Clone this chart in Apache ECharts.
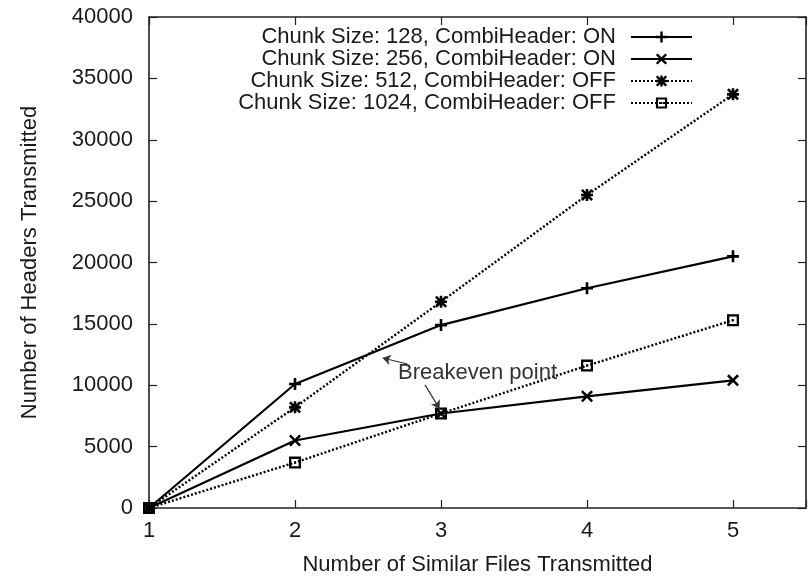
<!DOCTYPE html>
<html>
<head>
<meta charset="utf-8">
<script src="https://cdn.jsdelivr.net/npm/echarts@6/dist/echarts.min.js"></script>
<style>
html,body{margin:0;padding:0;background:#fff;}
#chart{width:809px;height:581px;}
</style>
</head>
<body>
<div id="chart"></div>
<script>
// ---- data ----
const xValues = [1, 2, 3, 4, 5];
const seriesNames = [
  'Chunk Size: 128, CombiHeader: ON',
  'Chunk Size: 256, CombiHeader: ON',
  'Chunk Size: 512, CombiHeader: OFF',
  'Chunk Size: 1024, CombiHeader: OFF'
];
const chunk128On  = [0, 10100, 14900, 17900, 20500];
const chunk256On  = [0, 5500, 7700, 9100, 10400];
const chunk512Off = [0, 8200, 16800, 25500, 33700];
const chunk1024Off = [0, 3700, 7700, 11600, 15300];
const yTicks = [0, 5000, 10000, 15000, 20000, 25000, 30000, 35000, 40000];
const annotationText = 'Breakeven point';
// annotation anchors in data coordinates
const labelAnchor = [3.25, 11000];
const arrow1 = [[2.77, 11730], [2.60, 12220]];
const arrow2 = [[2.89, 10030], [2.99, 8100]];

// ---- symbols ----
const PLUS = 'path://M4.7,0H7.3V4.7H12V7.3H7.3V12H4.7V7.3H0V4.7H4.7Z';
const CROSS = 'path://M0,1.8L1.8,0L6,4.2L10.2,0L12,1.8L7.8,6L12,10.2L10.2,12L6,7.8L1.8,12L0,10.2L4.2,6Z';
const STAR = 'path://M4.7,0H7.3V4.7H12V7.3H7.3V12H4.7V7.3H0V4.7H4.7Z M0,1.8L1.8,0L6,4.2L10.2,0L12,1.8L7.8,6L12,10.2L10.2,12L6,7.8L1.8,12L0,10.2L4.2,6Z';
const SQUARE = 'path://M0,0H12V12H0Z M2.3,2.3V9.7H9.7V2.3Z M5,5H7V7H5Z';

const FONT = "'Liberation Sans', Arial, sans-serif";
const TXT = '#1a1a1a';

function pairs(vals) { return xValues.map((x, i) => [x, vals[i]]); }

function mkSeries(name, vals, symbol, dotted) {
  return {
    name: name,
    type: 'line',
    data: pairs(vals),
    symbol: symbol,
    symbolSize: 12,
    showAllSymbol: true,
    lineStyle: { color: '#000', width: dotted ? 2.4 : 2.2, type: dotted ? [2, 2] : 'solid' },
    itemStyle: { color: '#000' },
    emphasis: { disabled: true },
    animation: false
  };
}

const series = [
  mkSeries(seriesNames[0], chunk128On, PLUS, false),
  mkSeries(seriesNames[1], chunk256On, CROSS, false),
  mkSeries(seriesNames[2], chunk512Off, STAR, true),
  mkSeries(seriesNames[3], chunk1024Off, SQUARE, true)
];

series[0].markLine = {
  silent: true,
  symbol: ['none', 'arrow'],
  symbolSize: 8,
  label: { show: false },
  lineStyle: { color: '#333', width: 1.2, type: 'solid' },
  animation: false,
  data: [
    [{ coord: arrow1[0] }, { coord: arrow1[1] }],
    [{ coord: arrow2[0] }, { coord: arrow2[1] }]
  ]
};
series[0].markPoint = {
  silent: true,
  symbol: 'rect',
  symbolSize: 1,
  itemStyle: { color: 'rgba(0,0,0,0)' },
  label: { show: true, position: 'inside', formatter: annotationText, fontSize: 22, fontFamily: FONT, color: '#333' },
  animation: false,
  data: [{ coord: labelAnchor }]
};

const chart = echarts.init(document.getElementById('chart'), null, { renderer: 'canvas' });

const axisLine = { show: true, onZero: false, lineStyle: { color: '#222', width: 1.6 } };
const axisTick = { show: true, inside: true, length: 8, lineStyle: { color: '#222', width: 1.2 } };

chart.setOption({
  animation: false,
  backgroundColor: '#fff',
  textStyle: { fontFamily: FONT },
  grid: { left: 149, top: 17, height: 495, width: 663.75, containLabel: false },
  legend: {
    orient: 'vertical',
    align: 'right',
    right: 116,
    top: 26,
    padding: 0,
    itemWidth: 61,
    itemHeight: 14,
    itemGap: 0,
    data: seriesNames,
    textStyle: { fontSize: 22, fontFamily: FONT, color: TXT, lineHeight: 21, padding: [0, 10, 0, 0] }
  },
  xAxis: [
    {
      type: 'value', min: 1, max: 5.5, interval: 1,
      position: 'bottom',
      name: 'Number of Similar Files Transmitted',
      nameLocation: 'middle', nameGap: 46,
      nameTextStyle: { fontSize: 22, fontFamily: FONT, color: TXT },
      axisLine: axisLine, axisTick: axisTick,
      axisLabel: { fontSize: 22, fontFamily: FONT, color: TXT, margin: 12,
        formatter: v => (Number.isInteger(v) && xValues.indexOf(v) >= 0) ? String(v) : '' },
      splitLine: { show: false }
    },
    {
      type: 'value', min: 1, max: 5.5, interval: 1,
      position: 'top',
      axisLine: axisLine, axisTick: axisTick,
      axisLabel: { show: false },
      splitLine: { show: false }
    }
  ],
  yAxis: [
    {
      type: 'value', min: 0, max: 40000, interval: 5000,
      position: 'left',
      name: 'Number of Headers Transmitted',
      nameLocation: 'middle', nameGap: 108,
      nameTextStyle: { fontSize: 22, fontFamily: FONT, color: TXT },
      axisLine: axisLine, axisTick: axisTick,
      axisLabel: { fontSize: 22, fontFamily: FONT, color: TXT, margin: 16,
        formatter: v => yTicks.indexOf(v) >= 0 ? String(v) : '' },
      splitLine: { show: false }
    },
    {
      type: 'value', min: 0, max: 40000, interval: 5000,
      position: 'right',
      axisLine: axisLine, axisTick: axisTick,
      axisLabel: { show: false },
      splitLine: { show: false }
    }
  ],
  series: series
});
</script>
</body>
</html>
